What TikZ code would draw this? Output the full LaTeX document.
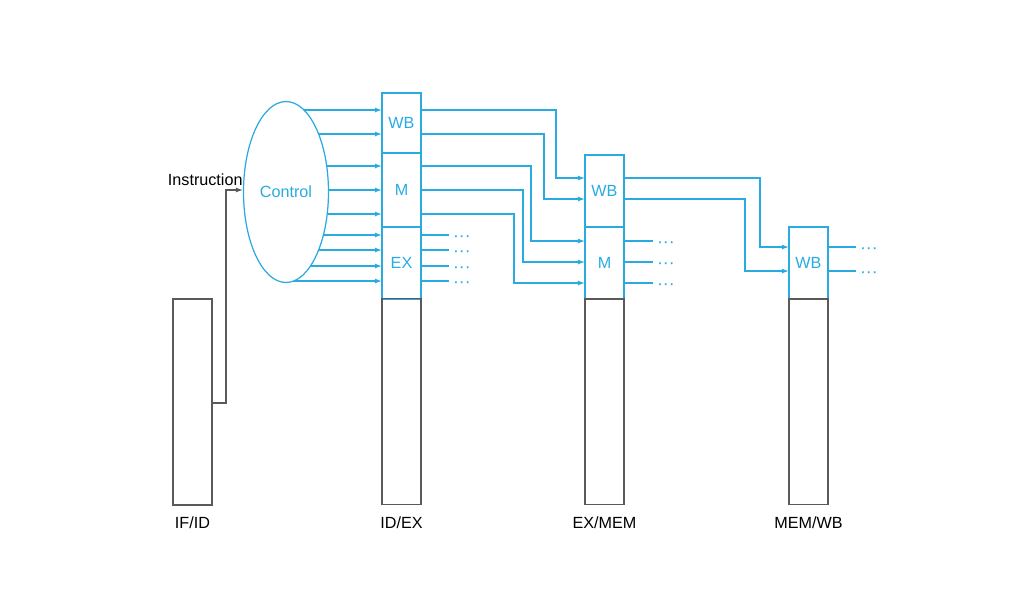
\documentclass[tikz,border=0pt]{standalone}
\usepackage{fontspec}
\setmainfont{Liberation Sans}
\usetikzlibrary{shapes.geometric,arrows.meta,positioning,backgrounds}
\definecolor{ctlblue}{RGB}{41,171,226}
\definecolor{reggray}{RGB}{90,90,90}
\tikzset{
	sec/.style={draw=ctlblue, line width=0.7pt, minimum width=0.78cm, inner sep=0pt, outer sep=0pt, text=ctlblue},
	body/.style={draw=reggray, line width=0.6pt, minimum width=0.78cm, minimum height=4.12cm, inner sep=0pt, outer sep=0pt},
	sig/.style={ctlblue, line width=0.7pt, -{Latex[length=4pt,width=2.8pt]}},
	sigout/.style={ctlblue, line width=0.7pt},
	wire/.style={reggray, line width=0.6pt, -{Latex[length=4pt,width=2.8pt]}},
	dots/.style={text=ctlblue, font=\fontsize{10}{11}\selectfont, anchor=mid west, inner sep=2pt, yshift=-1.1pt},
	stage/.style={anchor=base}
}
\begin{document}
\begin{tikzpicture}[x=0.02cm, y=-0.02cm, font=\fontsize{9.2}{11}\selectfont]
	\useasboundingbox (0,0) rectangle (1024,600);
	% pipeline registers
	\node[body, anchor=north west] (ifid) at (173,299) {};
	\node[sec, anchor=north west, minimum height=1.2cm] (idexwb) at (382,93) {WB};
	\node[sec, minimum height=1.48cm, below=0pt of idexwb] (idexm) {M};
	\node[sec, minimum height=1.44cm, below=0pt of idexm] (idexex) {EX};
	\node[body, below=0pt of idexex] (idex) {};
	\node[sec, anchor=north west, minimum height=1.44cm] (exmemwb) at (585,155) {WB};
	\node[sec, minimum height=1.44cm, below=0pt of exmemwb] (exmemm) {M};
	\node[body, below=0pt of exmemm] (exmem) {};
	\node[sec, anchor=north west, minimum height=1.44cm] (memwbwb) at (789,227) {WB};
	\node[body, below=0pt of memwbwb] (memwb) {};
	\node[stage] (ifidlbl) at (ifid.south |- 0,528) {IF/ID};
	\node[stage] (idexlbl) at (idex.south |- 0,528) {ID/EX};
	\node[stage] (exmemlbl) at (exmem.south |- 0,528) {EX/MEM};
	\node[stage] (memwblbl) at (memwb.south |- 0,528) {MEM/WB};
	% control unit
	\node[ellipse, draw=ctlblue, fill=white, line width=0.7pt, minimum width=1.7cm, minimum height=3.62cm, inner sep=0pt, text=ctlblue] (ctrl) at (286,192) {Control};
	\node[anchor=base east, inner sep=0pt] (instr) at (ctrl.west |- 0,185) {Instruction};
	\draw[wire] (ifid.east |- 0,403) -| (226,190) -- (ctrl.west |- 0,190);
	\begin{scope}[on background layer]
	\foreach \y in {110,134,166,190,214,235,250,266,281}
		\draw[sig] (ctrl.center |- 0,\y) -- (idexwb.west |- 0,\y);
	\end{scope}
	% ID/EX -> EX/MEM
	\foreach \ya/\xb/\yb in {110/556/178, 134/544/199}
		\draw[sig] (idexwb.east |- 0,\ya) -| (\xb,\yb) -- (exmemwb.west |- 0,\yb);
	\foreach \ya/\xb/\yb in {166/531/241, 190/523/262, 214/514/283}
		\draw[sig] (idexm.east |- 0,\ya) -| (\xb,\yb) -- (exmemm.west |- 0,\yb);
	\foreach \y in {235,250,266,281}
		\draw[sigout] (idexex.east |- 0,\y) -- ++(28,0) node[dots] (exd\y) {···};
	% EX/MEM -> MEM/WB
	\foreach \ya/\xb/\yb in {178/760/247, 199/745/271}
		\draw[sig] (exmemwb.east |- 0,\ya) -| (\xb,\yb) -- (memwbwb.west |- 0,\yb);
	\foreach \y in {241,262,283}
		\draw[sigout] (exmemm.east |- 0,\y) -- ++(29,0) node[dots] (md\y) {···};
	\foreach \y in {247,271}
		\draw[sigout] (memwbwb.east |- 0,\y) -- ++(28,0) node[dots] (wbd\y) {···};
\end{tikzpicture}
\end{document}
